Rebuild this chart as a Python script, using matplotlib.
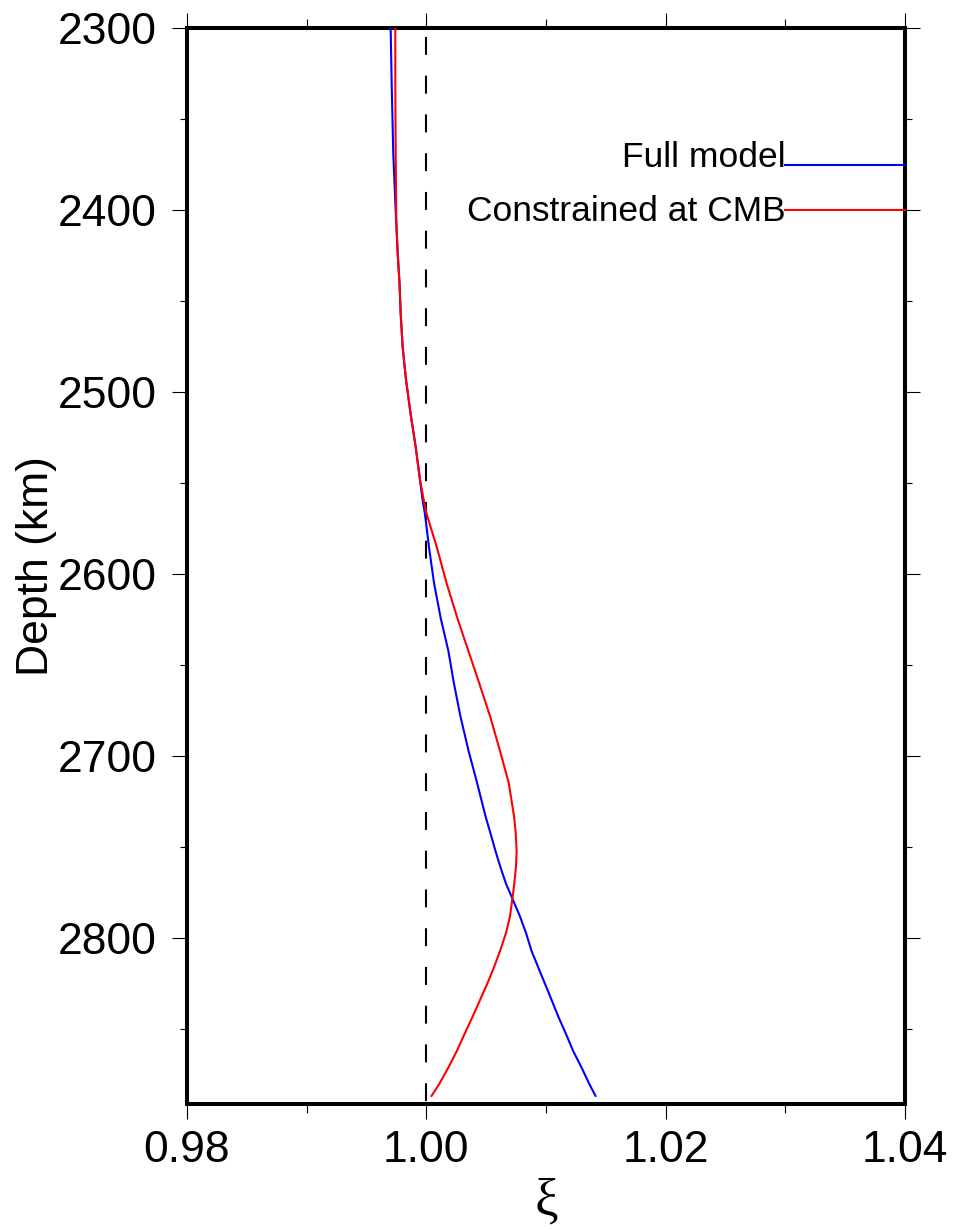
import matplotlib
matplotlib.use("Agg")
import matplotlib.pyplot as plt
from matplotlib.ticker import MultipleLocator, FixedLocator

plt.rcParams['font.family'] = ['Liberation Sans', 'DejaVu Sans']

# Radial anisotropy profiles in the lowermost mantle
depth_km = [2300, 2332, 2369, 2405, 2424, 2440, 2457, 2475, 2493, 2512,
            2530, 2548, 2558, 2567, 2585, 2605, 2624, 2642, 2660, 2678,
            2697, 2715, 2733, 2742, 2752, 2761, 2770, 2777, 2788, 2797,
            2807, 2816, 2825, 2834, 2843, 2852, 2862, 2871, 2880, 2887]
xi_full = [0.99702, 0.99711, 0.99724, 0.99747, 0.99761, 0.99776, 0.99786, 0.99802, 0.99830, 0.99869,
           0.99911, 0.99947, 0.99966, 0.99989, 1.00022, 1.00065, 1.00120, 1.00184, 1.00231, 1.00285,
           1.00353, 1.00426, 1.00495, 1.00535, 1.00578, 1.00620, 1.00666, 1.00712, 1.00783, 1.00833,
           1.00880, 1.00936, 1.00992, 1.01048, 1.01103, 1.01164, 1.01228, 1.01298, 1.01362, 1.01418]
xi_cmb = [0.99741, 0.99741, 0.99744, 0.99749, 0.99761, 0.99776, 0.99786, 0.99802, 0.99830, 0.99869,
          0.99911, 0.99947, 0.99975, 1.00003, 1.00087, 1.00170, 1.00259, 1.00351, 1.00443, 1.00533,
          1.00616, 1.00690, 1.00733, 1.00747, 1.00755, 1.00749, 1.00735, 1.00722, 1.00699, 1.00666,
          1.00616, 1.00565, 1.00509, 1.00448, 1.00387, 1.00323, 1.00254, 1.00184, 1.00108, 1.00039]

series_labels = ["Full model", "Constrained at CMB"]
series_colors = ["#0000ff", "#ff0000"]
legend_depths = [2375, 2400]
legend_text_depths = [2376.5, 2406]

x_major = [0.98, 1.00, 1.02, 1.04]
x_minor = [0.99, 1.01, 1.03]
x_ticklabels = ["0.98", "1.00", "1.02", "1.04"]
y_major = [2300, 2400, 2500, 2600, 2700, 2800]
y_ticklabels = ["2300", "2400", "2500", "2600", "2700", "2800"]

fig = plt.figure(figsize=(9.54, 12.30), dpi=100)
ax = fig.add_axes([0.196, 0.1024, 0.7526, 0.8748])

# reference line at xi = 1
ax.plot([1.0, 1.0], [2300, 2891], color="black", lw=1.5,
        linestyle=(14.3, (8.6, 10.0)), zorder=1)

for xs, c in zip([xi_full, xi_cmb], series_colors):
    ax.plot(xs, depth_km, color=c, lw=1.5, zorder=3,
            solid_joinstyle="round", solid_capstyle="butt")

# in-plot key
for lab, c, d, td in zip(series_labels, series_colors, legend_depths, legend_text_depths):
    ax.plot([1.03, 1.04], [d, d], color=c, lw=1.5, clip_on=False, zorder=3)
    ax.text(1.03, td, lab, ha="right", va="baseline", fontsize=25.5)

ax.set_xlim(0.98, 1.04)
ax.set_ylim(2891, 2300)

ax.xaxis.set_major_locator(FixedLocator(x_major))
ax.xaxis.set_minor_locator(FixedLocator(x_minor))
ax.set_xticklabels(x_ticklabels)
ax.yaxis.set_major_locator(FixedLocator(y_major))
ax.yaxis.set_minor_locator(MultipleLocator(50))
ax.set_yticklabels(y_ticklabels)

ax.tick_params(which="both", direction="out", top=True, right=True, width=0.8, color="black")
ax.tick_params(axis="x", which="major", length=10.8, pad=8, labelsize=32)
ax.tick_params(axis="x", which="minor", length=6.2)
ax.tick_params(axis="y", which="major", length=10.8, pad=11, labelsize=32)
ax.tick_params(axis="y", which="minor", length=5.0)

for sp in ax.spines.values():
    sp.set_linewidth(2.9)

ax.set_ylabel("Depth (km)", fontsize=32)
ax.yaxis.set_label_coords(-0.181, 0.5)
ax.set_xlabel("ξ", fontsize=38, family=["Liberation Serif", "DejaVu Serif"])
ax.xaxis.set_label_coords(0.501, -0.068)

fig.savefig("out.png", dpi=100)
